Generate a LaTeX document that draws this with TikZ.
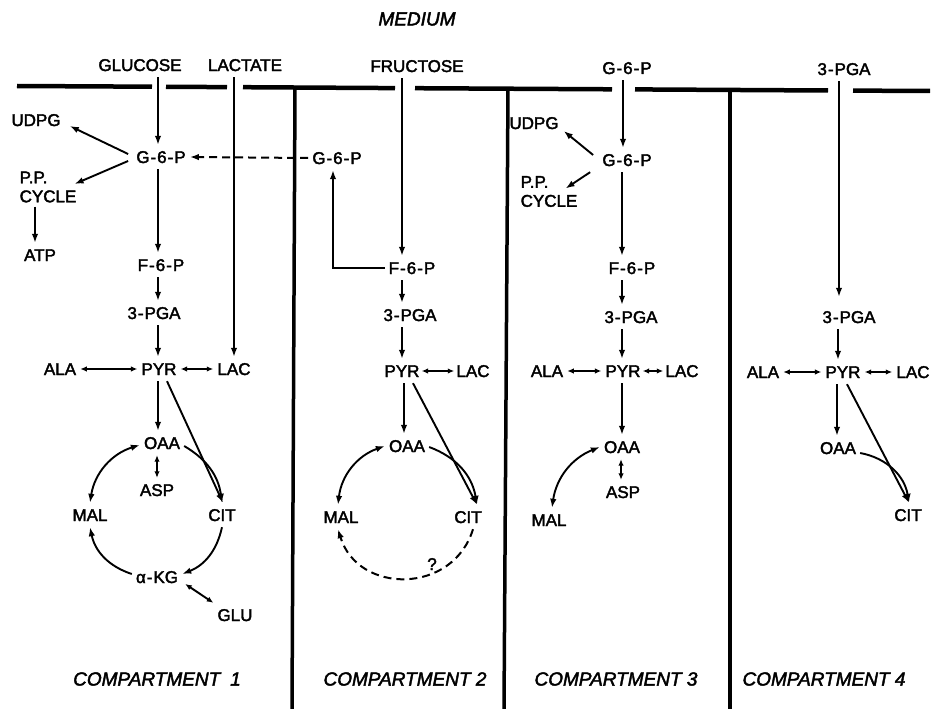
\documentclass[tikz,border=0pt]{standalone}
\usepackage{fontspec}
\setmainfont{Liberation Sans}
\newfontfamily\lettering{Liberation Sans}[FakeBold=2.2]
\usetikzlibrary{arrows.meta}
\newcommand{\mhy}{\kern1pt-\kern1pt}
\begin{document}
\begin{tikzpicture}[x=1pt,y=1pt,
  lab/.style={font=\lettering\fontsize{17}{20}\selectfont, inner xsep=4pt, inner ysep=6pt, text height=12pt, text depth=0pt},
  twoline/.style={font=\lettering\fontsize{17}{19}\selectfont, align=left, inner sep=4pt},
  ital/.style={font=\lettering\fontsize{19}{22}\selectfont\itshape, inner sep=2pt},
  arr/.style={-{Latex[length=9pt,width=6.5pt]}, line width=1.9pt},
  darr/.style={{Latex[length=9pt,width=6.5pt]}-{Latex[length=9pt,width=6.5pt]}, line width=1.9pt},
  sdarr/.style={{Latex[length=6.5pt,width=5.5pt]}-{Latex[length=6.5pt,width=5.5pt]}, line width=1.9pt},
  wall/.style={line width=4.5pt},
  divider/.style={line width=3.5pt},
  dsh/.style={dash pattern=on 8pt off 5pt, line width=2pt},
]
\fill[white] (0,0) rectangle (932,-709);
\useasboundingbox (0,0) rectangle (932,-709);

% membrane and walls
\draw[wall] (17,-86) -- (152,-86.7);
\draw[wall] (166,-86.8) -- (227,-87.1);
\draw[wall] (243,-87.2) -- (395,-88.1);
\draw[wall] (415,-88.2) -- (612,-89.3);
\draw[wall] (635,-89.4) -- (828,-90.5);
\draw[wall] (853,-90.6) -- (930,-91);
\draw[divider] (295,-87.5) -- (292,-709);
\draw[divider] (508,-89) -- (504,-709);
\draw[divider] (730,-90) -- (730,-709);

% medium labels
\node[ital] (medium) at (417,-19) {MEDIUM};
\node[lab] (glucose) at (140,-65) {GLUCOSE};
\node[lab] (lactate) at (245,-65) {LACTATE};
\node[lab] (fructose) at (417,-66) {FRUCTOSE};
\node[lab] (g6pm) at (627,-68) {G\mhy 6\mhy P};
\node[lab] (pgam) at (844,-69) {3\mhy PGA};

% compartment 1
\node[lab] (udpg1) at (36,-120) {UDPG};
\node[lab] (g6p1) at (161,-157) {G\mhy 6\mhy P};
\node[twoline] (pp1) at (48,-187) {P.P.\\CYCLE};
\node[lab] (atp1) at (40,-255) {ATP};
\node[lab] (f6p1) at (161,-265) {F\mhy 6\mhy P};
\node[lab] (pga1) at (154,-313) {3\mhy PGA};
\node[lab] (pyr1) at (159,-369) {PYR};
\node[lab] (ala1) at (60,-369) {ALA};
\node[lab] (lac1) at (234,-369) {LAC};
\node[lab] (oaa1) at (162,-443) {OAA};
\node[lab] (asp1) at (157,-490) {ASP};
\node[lab] (mal1) at (90,-515) {MAL};
\node[lab] (cit1) at (222,-515) {CIT};
\node[lab] (akg1) at (157,-577) {α\mhy KG};
\node[lab] (glu1) at (235,-615) {GLU};

% compartment 2
\node[lab] (g6p2) at (337,-158) {G\mhy 6\mhy P};
\node[lab] (f6p2) at (412,-268) {F\mhy 6\mhy P};
\node[lab] (pga2) at (410,-315) {3\mhy PGA};
\node[lab] (pyr2) at (402,-371) {PYR};
\node[lab] (lac2) at (473,-371) {LAC};
\node[lab] (oaa2) at (407,-446) {OAA};
\node[lab] (mal2) at (341,-517) {MAL};
\node[lab] (cit2) at (468,-517) {CIT};
\node[lab] (q2) at (432,-564) {?};

% compartment 3
\node[lab] (udpg3) at (534,-123) {UDPG};
\node[lab] (g6p3) at (627,-160) {G\mhy 6\mhy P};
\node[twoline] (pp3) at (549,-191.5) {P.P.\\CYCLE};
\node[lab] (f6p3) at (632,-268) {F\mhy 6\mhy P};
\node[lab] (pga3) at (631,-317) {3\mhy PGA};
\node[lab] (pyr3) at (623,-371) {PYR};
\node[lab] (ala3) at (547,-371) {ALA};
\node[lab] (lac3) at (682,-371) {LAC};
\node[lab] (oaa3) at (622,-447) {OAA};
\node[lab] (asp3) at (623,-492) {ASP};
\node[lab] (mal3) at (549,-520) {MAL};

% compartment 4
\node[lab] (pga4) at (849,-317) {3\mhy PGA};
\node[lab] (pyr4) at (843,-372) {PYR};
\node[lab] (ala4) at (763,-372) {ALA};
\node[lab] (lac4) at (913,-372) {LAC};
\node[lab] (oaa4) at (838,-448) {OAA};
\node[lab] (cit4) at (908,-515) {CIT};

% compartment labels
\node[ital] (c1) at (157,-679) {COMPARTMENT\hspace{10pt}1};
\node[ital] (c2) at (405,-679) {COMPARTMENT 2};
\node[ital] (c3) at (616,-679) {COMPARTMENT 3};
\node[ital] (c4) at (824,-679) {COMPARTMENT 4};

% ---- connectors compartment 1
\draw[arr] ([xshift=-1pt]pyr1 |- glucose.south) -- ([xshift=-1pt]pyr1 |- g6p1.north);
\draw[arr] (lac1 |- lactate.south) -- (lac1.north);
\draw[arr] ([shift={(-4pt,3pt)}]g6p1.west) -- ([shift={(5pt,-6pt)}]udpg1.east);
\draw[arr] ([shift={(-4pt,-4pt)}]g6p1.west) -- ([shift={(-6pt,3pt)}]pp1.east);
\draw[arr] ([xshift=-13pt]pp1.south) -- ([xshift=-13pt]pp1.south |- atp1.north);
\draw[arr] ([xshift=-1pt]pyr1 |- g6p1.south) -- ([xshift=-1pt]pyr1 |- f6p1.north);
\draw[arr] ([xshift=-1pt]pyr1 |- f6p1.south) -- ([xshift=-1pt]pyr1 |- pga1.north);
\draw[arr] ([xshift=-1pt]pyr1 |- pga1.south) -- ([xshift=-1pt]pyr1.north);
\draw[arr] ([xshift=-1pt]pyr1.south) -- ([xshift=-1pt]pyr1 |- oaa1.north);
\draw[sdarr] (ala1.east) -- (pyr1.west);
\draw[sdarr] (pyr1.east) -- (lac1.west);
\draw[arr] ([xshift=8pt]pyr1.south) -- ([xshift=1pt]cit1.north);
\draw[sdarr] (asp1 |- oaa1.south) -- (asp1.north);
\draw[darr] ([yshift=-2pt]oaa1.west) to[bend right=32] (mal1.north);
\draw[arr] ([yshift=-3pt]oaa1.east) to[bend left=26] (cit1.north);
\draw[arr] (cit1.south) to[bend left=28] ([yshift=3pt]akg1.east);
\draw[arr] ([yshift=3pt]akg1.west) to[bend left=30] (mal1.south);
\draw[sdarr] ([shift={(3pt,-7pt)}]akg1.east) -- (glu1.north west);

% ---- connectors compartment 2
\draw[arr] (pyr2 |- fructose.south) -- (pyr2 |- f6p2.north);
\draw[arr] (f6p2.west) -| ([xshift=-4pt]g6p2.south);
\draw[dsh, -{Latex[length=9pt,width=6.5pt]}] (g6p2.west) -- (g6p1.east);
\draw[arr] (pyr2 |- f6p2.south) -- (pyr2 |- pga2.north);
\draw[arr] (pyr2 |- pga2.south) -- (pyr2.north);
\draw[sdarr] ([xshift=-2pt]pyr2.east) -- ([xshift=2pt]lac2.west);
\draw[arr] ([xshift=2pt]pyr2.south) -- ([xshift=2pt]pyr2 |- oaa2.north);
\draw[arr] ([xshift=11pt]pyr2.south) -- ([xshift=9pt]cit2.north);
\draw[darr] (oaa2.west) to[bend right=32] ([xshift=-3pt]mal2.north);
\draw[arr] ([yshift=-1pt]oaa2.east) to[bend left=30] ([xshift=9pt]cit2.north);
\draw[dsh, -{Latex[length=9pt,width=6.5pt]}] ([xshift=5pt]cit2.south) to[bend left=73, looseness=1.3] ([xshift=-3pt]mal2.south);

% ---- connectors compartment 3
\draw[arr] (pyr3 |- g6pm.south) -- (pyr3 |- g6p3.north);
\draw[arr] ([shift={(-5pt,5pt)}]g6p3.west) -- ([shift={(1pt,-8pt)}]udpg3.east);
\draw[arr] ([xshift=-8pt]g6p3.south west) -- ([shift={(-16pt,3pt)}]pp3.east);
\draw[arr] ([xshift=-1pt]pyr3 |- g6p3.south) -- ([xshift=-1pt]pyr3 |- f6p3.north);
\draw[arr] ([xshift=-1pt]pyr3 |- f6p3.south) -- ([xshift=-1pt]pyr3 |- pga3.north);
\draw[arr] ([xshift=-1pt]pyr3 |- pga3.south) -- ([xshift=-1pt]pyr3.north);
\draw[sdarr] (ala3.east) -- (pyr3.west);
\draw[sdarr] ([xshift=-2pt]pyr3.east) -- ([xshift=2pt]lac3.west);
\draw[arr] ([xshift=-1pt]pyr3.south) -- ([xshift=-1pt]pyr3 |- oaa3.north);
\draw[sdarr] ([xshift=-1pt]oaa3.south) -- ([xshift=-1pt]oaa3 |- asp3.north);
\draw[darr] (oaa3.west) to[bend right=30] ([xshift=3pt]mal3.north);

% ---- connectors compartment 4
\draw[arr, shorten >=8pt] ([xshift=-4pt]pyr4 |- pgam.south) -- ([xshift=-4pt]pyr4 |- pga4.north);
\draw[arr] ([xshift=-5pt]pyr4 |- pga4.south) -- ([xshift=-5pt]pyr4.north);
\draw[sdarr] (ala4.east) -- (pyr4.west);
\draw[sdarr] (pyr4.east) -- (lac4.west);
\draw[arr] ([xshift=-6pt]pyr4.south) -- ([xshift=-6pt]pyr4 |- oaa4.north);
\draw[arr] ([xshift=4pt]pyr4.south) -- ([xshift=1pt]cit4.north);
\draw[arr] ([yshift=-5pt]oaa4.east) to[bend left=35] ([xshift=1pt]cit4.north);
\end{tikzpicture}
\end{document}
